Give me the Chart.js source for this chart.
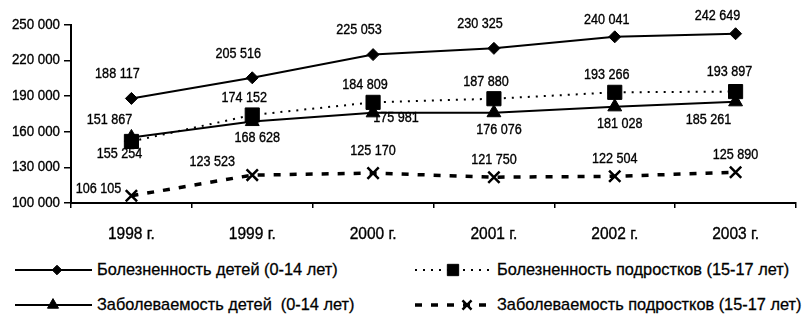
<!DOCTYPE html>
<html>
<head>
<meta charset="utf-8">
<script src="https://cdn.jsdelivr.net/npm/chart.js@4.4.0/dist/chart.umd.min.js"></script>
<style>
    body { margin: 0; background: #fff; }
    #wrap { position: relative; width: 807px; height: 319px; font-family: "Liberation Sans", Arial, sans-serif; }
    #chart-box { position: absolute; left: 0; top: 0; width: 807px; height: 252px; }
    .lg { position: absolute; height: 22px; }
    .lg canvas { position: absolute; left: 0; top: 0; }
    .lg span { position: absolute; top: 1px; font-size: 17px; line-height: 20px; color: #000; white-space: pre;
               -webkit-text-stroke: 0.3px #000;
               transform: scaleX(0.96); transform-origin: left center; }
</style>
</head>
<body>
<div id="wrap">
    <div id="chart-box"><canvas id="chart"></canvas></div>
    <div id="legend"></div>
</div>
<script>
// годы
const years = ['1998 г.', '1999 г.', '2000 г.', '2001 г.', '2002 г.', '2003 г.'];

// ряды данных
const morbidityKids = [188117, 205516, 225053, 230325, 240041, 242649];
const morbidityTeens = [151867, 174152, 184809, 187880, 193266, 193897];
const incidenceKids = [155254, 168628, 175981, 176076, 181028, 185261];
const incidenceTeens = [106105, 123523, 125170, 121750, 122504, 125890];

const seriesNames = [
    'Болезненность детей (0-14 лет)',
    'Болезненность подростков (15-17 лет)',
    'Заболеваемость детей  (0-14 лет)',
    'Заболеваемость подростков (15-17 лет)'
];

// шкала Y
const yMin = 100000;
const yMax = 250000;
const yStep = 30000;

const FAMILY = '"Liberation Sans", Arial, sans-serif';

function fmt(n) {
    return String(n).replace(/\B(?=(\d{3})+(?!\d))/g, ' ');
}

// сжатый по ширине текст на канве
function narrowText(ctx, text, x, y, align, size, sx) {
    ctx.save();
    ctx.font = size + 'px ' + FAMILY;
    ctx.translate(x, y);
    ctx.scale(sx, 1);
    ctx.textAlign = align;
    ctx.textBaseline = 'middle';
    ctx.lineWidth = 0.35;
    ctx.strokeText(text, 0, 0);
    ctx.fillText(text, 0, 0);
    ctx.restore();
}

// смещения подписей значений (по рядам, с отдельными поправками)
const labelShift = [
    { dx: -14, dy: -24, fix: { 4: [-8, -17], 5: [-18, -18] } },
    { dx: -8, dy: -17, fix: { 0: [-22, -21], 5: [-6, -19] } },
    { dx: 5, dy: 17, fix: { 0: [-12, 17], 2: [23, 5], 5: [-27, 18] } },
    { dx: 0, dy: -17, fix: { 0: [-33, -7], 1: [-40, -13], 2: [0, -22] } }
];

const textPlugin = {
    id: 'textPlugin',
    afterDraw(chart) {
        const ctx = chart.ctx;
        ctx.save();
        ctx.fillStyle = '#000';
        ctx.strokeStyle = '#000';

        // подписи оси Y
        const ys = chart.scales.y;
        ys.ticks.forEach((t, i) => {
            narrowText(ctx, fmt(t.value), ys.right - 11, ys.getPixelForTick(i), 'right', 14, 0.95);
        });
        // подписи оси X
        const xs = chart.scales.x;
        xs.ticks.forEach((t, i) => {
            narrowText(ctx, years[i], xs.getPixelForTick(i), xs.top + 32, 'center', 16, 0.97);
        });

        // подписи значений
        chart.data.datasets.forEach((ds, di) => {
            const meta = chart.getDatasetMeta(di);
            const sh = labelShift[di];
            meta.data.forEach((pt, i) => {
                const off = sh.fix[i] || [sh.dx, sh.dy];
                narrowText(ctx, fmt(ds.data[i]), pt.x + off[0], pt.y + off[1], 'center', 14, 0.9);
            });
        });
        ctx.restore();
    }
};

const styles = [
    { pointStyle: 'rectRot', radius: 6, dash: [], width: 2 },
    { pointStyle: 'rect', radius: 10, dash: [2, 6], width: 2 },
    { pointStyle: 'triangle', radius: 8, dash: [], width: 2 },
    { pointStyle: 'crossRot', radius: 8, dash: [7, 9], width: 3.5 }
];

const allData = [morbidityKids, morbidityTeens, incidenceKids, incidenceTeens];

function createChart() {
    const ctx = document.getElementById('chart').getContext('2d');
    new Chart(ctx, {
        type: 'line',
        data: {
            labels: years,
            datasets: allData.map((d, i) => ({
                label: seriesNames[i],
                data: d,
                borderColor: '#000',
                backgroundColor: '#000',
                borderWidth: styles[i].width,
                borderDash: styles[i].dash,
                pointStyle: styles[i].pointStyle,
                pointRadius: styles[i].radius,
                pointBorderWidth: i === 3 ? 2.5 : 1,
                pointBackgroundColor: '#000',
                pointBorderColor: '#000',
                tension: 0
            }))
        },
        options: {
            responsive: true,
            maintainAspectRatio: false,
            animation: false,
            layout: { padding: { top: 25, right: 2, left: 0, bottom: 0 } },
            plugins: {
                legend: { display: false },
                tooltip: { enabled: false }
            },
            scales: {
                x: {
                    offset: true,
                    grid: { offset: true, drawOnChartArea: false, tickLength: 5, color: '#000', lineWidth: 1.5 },
                    border: { color: '#000', width: 2 },
                    ticks: { display: false },
                    afterFit(scale) { scale.height = 49; }
                },
                y: {
                    min: yMin,
                    max: yMax,
                    ticks: { stepSize: yStep, display: false },
                    grid: { drawOnChartArea: false, tickLength: 7, color: '#000', lineWidth: 1.5 },
                    border: { color: '#000', width: 2 },
                    afterFit(scale) { scale.width = 71; }
                }
            }
        },
        plugins: [textPlugin]
    });
}

// легенда
const legendPos = [
    { x: 15, y: 270, mark: 42 },
    { x: 415, y: 270, mark: 38 },
    { x: 15, y: 305, mark: 38 },
    { x: 415, y: 305, mark: 52 }
];

function createLegend() {
    const box = document.getElementById('legend');
    seriesNames.forEach((name, i) => {
        const p = legendPos[i];
        const item = document.createElement('div');
        item.className = 'lg';
        item.style.left = p.x + 'px';
        item.style.top = (p.y - 11) + 'px';
        const c = document.createElement('canvas');
        c.width = 77; c.height = 22;
        item.appendChild(c);
        const span = document.createElement('span');
        span.style.left = '82px';
        span.textContent = name;
        item.appendChild(span);
        box.appendChild(item);

        const g = c.getContext('2d');
        const st = styles[i];
        g.strokeStyle = '#000';
        g.fillStyle = '#000';
        g.lineWidth = st.width;
        g.setLineDash(st.dash);
        g.beginPath();
        g.moveTo(0, 11);
        g.lineTo(77, 11);
        g.stroke();
        g.setLineDash([]);
        g.lineWidth = i === 3 ? 2.5 : 1;
        Chart.helpers.drawPoint(g, { pointStyle: st.pointStyle, radius: st.radius * 0.8, borderWidth: g.lineWidth }, p.mark, 11);
    });
}

document.addEventListener('DOMContentLoaded', function() {
    createChart();
    createLegend();
});
</script>
</body>
</html>
